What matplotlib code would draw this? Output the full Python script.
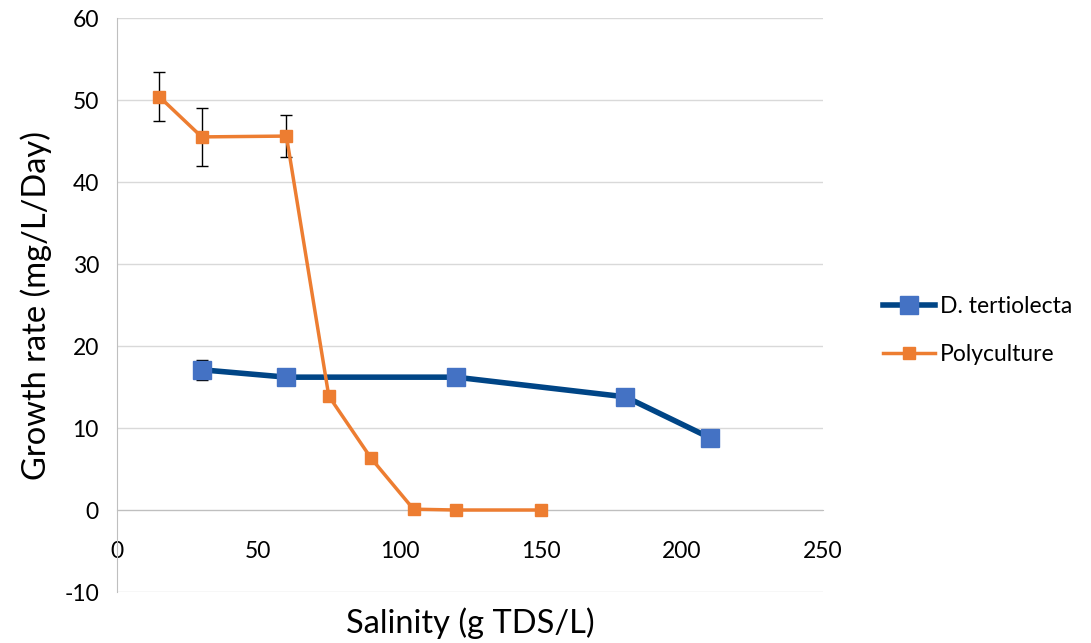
import matplotlib
matplotlib.use("Agg")
import matplotlib.pyplot as plt

poly_x = [15, 30, 60, 75, 90, 105, 120, 150]
poly_y = [50.4, 45.5, 45.6, 13.9, 6.3, 0.1, 0.0, 0.0]
poly_err = [3.0, 3.5, 2.6, 0, 0, 0, 0, 0]

dt_x = [30, 60, 120, 180, 210]
dt_y = [17.1, 16.2, 16.2, 13.8, 8.8]
dt_err = [1.2, 0, 0, 0, 0]

xticks = [0, 50, 100, 150, 200, 250]
yticks = [-10, 0, 10, 20, 30, 40, 50, 60]

plt.rcParams['font.family'] = ['Lato', 'DejaVu Sans']
plt.rcParams['axes.unicode_minus'] = False

fig = plt.figure(figsize=(10.91, 6.43), dpi=100)
ax = fig.add_axes([0.1072, 0.0793, 0.6472, 0.8927])

ax.errorbar(dt_x, dt_y, yerr=dt_err, color='#004586', lw=4, marker='s', ms=13,
            mfc='#4472c4', mec='#4472c4', ecolor='black', elinewidth=1, capsize=4,
            label='D. tertiolecta', zorder=3)
ax.errorbar(poly_x, poly_y, yerr=poly_err, color='#ed7d31', lw=2.5, marker='s', ms=9,
            mfc='#ed7d31', mec='#ed7d31', ecolor='black', elinewidth=1, capsize=4,
            label='Polyculture', zorder=4)

ax.set_xlim(0, 250)
ax.set_ylim(-10, 60)
ax.set_xticks(xticks)
ax.set_yticks(yticks)
ax.grid(axis='y', color='#d9d9d9', lw=1)
ax.set_axisbelow(True)
for s in ['top', 'right']:
    ax.spines[s].set_visible(False)
ax.spines['left'].set_color('#bfbfbf')
ax.spines['bottom'].set_position(('data', 0))
ax.spines['bottom'].set_color('#bfbfbf')
ax.tick_params(axis='both', length=0, labelsize=16.5, colors='#000000')
ax.tick_params(axis='x', pad=22)
ax.tick_params(axis='y', pad=13)

ax.set_xlabel('Salinity (g TDS/L)', fontsize=23.5)
ax.set_ylabel('Growth rate (mg/L/Day)', fontsize=23.5)
ax.xaxis.set_label_coords(0.5, -0.027)
ax.yaxis.set_label_coords(-0.092, 0.5)

handles, labels = ax.get_legend_handles_labels()
handles = [h[0] for h in handles]
fig.legend(handles, labels, loc='center left', bbox_to_anchor=(0.79, 0.486),
           frameon=False, fontsize=16.5, handlelength=2.3, labelspacing=1.2, handletextpad=0.2)

fig.savefig('out.png', dpi=100)
